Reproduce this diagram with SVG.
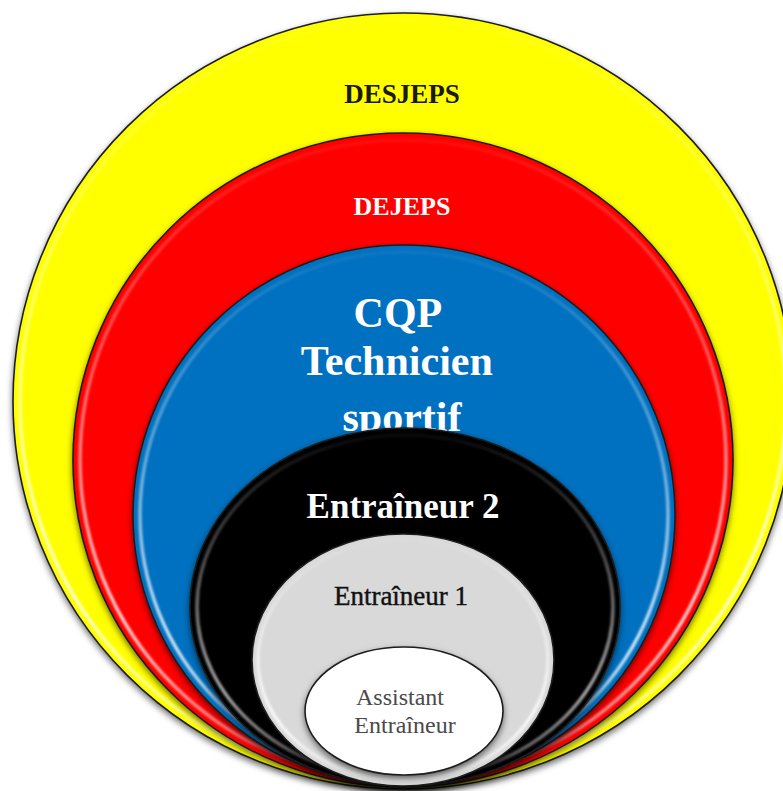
<svg xmlns="http://www.w3.org/2000/svg" width="783" height="791" viewBox="0 0 783 791">
  <defs>
    <filter id="shadow" x="-10%" y="-10%" width="120%" height="125%">
      <feGaussianBlur in="SourceAlpha" stdDeviation="3"/>
      <feOffset dx="0" dy="3" result="b"/>
      <feFlood flood-color="#000" flood-opacity="0.55"/>
      <feComposite in2="b" operator="in" result="s"/>
      <feMerge><feMergeNode in="s"/><feMergeNode in="SourceGraphic"/></feMerge>
    </filter>
    <filter id="soft" x="-5%" y="-5%" width="110%" height="110%">
      <feGaussianBlur stdDeviation="1.2"/>
    </filter>
    <linearGradient id="hl" x1="0" y1="0" x2="0" y2="1">
      <stop offset="0" stop-color="#fff" stop-opacity="0.05"/>
      <stop offset="0.35" stop-color="#fff" stop-opacity="0.35"/>
      <stop offset="0.75" stop-color="#fff" stop-opacity="0.8"/>
      <stop offset="1" stop-color="#fff" stop-opacity="0.3"/>
    </linearGradient>
  </defs>
  <style>
    .ring { stroke: #1e1e1e; stroke-width: 1.6; filter: url(#shadow); }
    .hl { fill: none; stroke: url(#hl); stroke-width: 3.5; filter: url(#soft); }
    text { font-family: "Liberation Serif", "DejaVu Serif", serif; text-anchor: middle; }
  </style>
  <rect width="783" height="791" fill="#fff"/>

  <g id="desjeps">
    <ellipse class="ring" cx="403" cy="401" rx="390" ry="388" fill="#FFFF00"/>
    <ellipse class="hl" cx="403" cy="401" rx="383" ry="381"/>
    <text x="402" y="103" font-size="27" font-weight="bold" fill="#1a1a00">DESJEPS</text>
  </g>

  <g id="dejeps">
    <ellipse class="ring" cx="403" cy="460" rx="330" ry="327" fill="#FF0000"/>
    <ellipse class="hl" cx="403" cy="460" rx="323" ry="320"/>
    <text x="402" y="215" font-size="26" font-weight="bold" fill="#fff">DEJEPS</text>
  </g>

  <g id="cqp">
    <ellipse class="ring" cx="404" cy="515" rx="271" ry="270" fill="#0070C0"/>
    <ellipse class="hl" cx="404" cy="515" rx="264" ry="263"/>
    <text font-size="42" font-weight="bold" fill="#fff">
      <tspan x="402" y="327">CQP</tspan>
      <tspan x="402" y="375">Technicien</tspan>
      <tspan x="402" y="431">sportif</tspan>
    </text>
  </g>

  <g id="entraineur2">
    <ellipse class="ring" cx="405" cy="607" rx="215" ry="179" fill="#000000"/>
    <ellipse class="hl" cx="405" cy="607" rx="208" ry="172" opacity="0.8"/>
    <text x="403" y="518" font-size="35" font-weight="bold" fill="#fff">Entraîneur 2</text>
  </g>

  <g id="entraineur1">
    <ellipse class="ring" cx="403" cy="660" rx="151" ry="126" fill="#D9D9D9"/>
    <ellipse class="hl" cx="403" cy="660" rx="145" ry="120"/>
    <text x="401" y="605" font-size="27" fill="#111" stroke="#111" stroke-width="0.4">Entraîneur 1</text>
  </g>

  <g id="assistant">
    <ellipse class="ring" cx="404" cy="711" rx="99" ry="64" fill="#FFFFFF"/>
    <text font-size="24" fill="#4a4a4a">
      <tspan x="403" y="705">Assistant</tspan>
      <tspan x="405" y="733">Entraîneur</tspan>
    </text>
  </g>
</svg>
